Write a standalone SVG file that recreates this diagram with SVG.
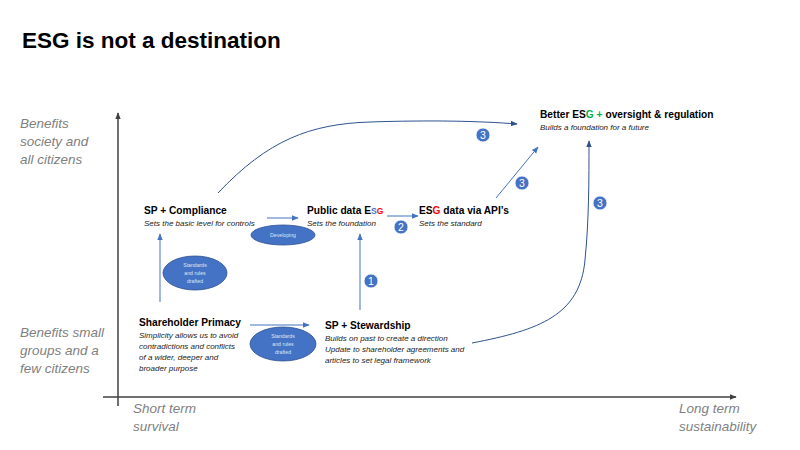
<svg xmlns="http://www.w3.org/2000/svg" width="800" height="450" viewBox="0 0 800 450">
<defs>
<style>
.title{font-family:"Liberation Sans",Arial,sans-serif;font-weight:bold;font-size:22.5px;fill:#000}
.ax{font-family:"Liberation Sans",Arial,sans-serif;font-style:italic;font-size:13.5px;fill:#7f7f7f}
.hd{font-family:"Liberation Sans",Arial,sans-serif;font-weight:bold;font-size:10.2px;fill:#000}
.sub{font-family:"Liberation Sans",Arial,sans-serif;font-style:italic;font-size:8px;fill:#222}
.ell{fill:#4472c4;stroke:#2f528f;stroke-width:0.8}
.elt{font-family:"Liberation Sans",Arial,sans-serif;font-size:5.2px;fill:#dce6f5;text-anchor:middle}
.num circle{fill:#4472c4;stroke:#ffffff;stroke-width:0.8}
.num text{font-family:"Liberation Sans",Arial,sans-serif;font-size:10.5px;fill:#fff;text-anchor:middle}
.arr{stroke:#4472c4;stroke-width:1;fill:none;marker-end:url(#ah)}
.crv{stroke:#2f528f;stroke-width:1;fill:none;marker-end:url(#ah2)}
.axis{stroke:#404040;stroke-width:1.5;fill:none}
</style>
<marker id="ah" viewBox="0 0 10 10" refX="9" refY="5" markerWidth="7" markerHeight="7" orient="auto" markerUnits="userSpaceOnUse"><path d="M0,1 L10,5 L0,9 z" fill="#4472c4"/></marker>
<marker id="ah2" viewBox="0 0 10 10" refX="9" refY="5" markerWidth="7" markerHeight="7" orient="auto" markerUnits="userSpaceOnUse"><path d="M0,1 L10,5 L0,9 z" fill="#2f528f"/></marker>
<marker id="axh" viewBox="0 0 10 10" refX="9" refY="5" markerWidth="7" markerHeight="7" orient="auto" markerUnits="userSpaceOnUse"><path d="M0,1 L10,5 L0,9 z" fill="#404040"/></marker>
</defs>
<rect width="800" height="450" fill="#fff"/>
<text class="title" x="22" y="48">ESG is not a destination</text>

<g id="axes">
<line class="axis" x1="118" y1="406" x2="118" y2="113" marker-end="url(#axh)"/>
<line class="axis" x1="103" y1="397" x2="736" y2="397" marker-end="url(#axh)"/>
<text class="ax" x="20" y="128">Benefits</text>
<text class="ax" x="20" y="146">society and</text>
<text class="ax" x="20" y="164">all citizens</text>
<text class="ax" x="20" y="337">Benefits small</text>
<text class="ax" x="20" y="355">groups and a</text>
<text class="ax" x="20" y="373">few citizens</text>
<text class="ax" x="133" y="413">Short term</text>
<text class="ax" x="133" y="431">survival</text>
<text class="ax" x="679" y="413">Long term</text>
<text class="ax" x="679" y="431">sustainability</text>
</g>

<g id="connectors">
<line class="arr" x1="267" y1="218" x2="298" y2="218"/>
<line class="arr" x1="387" y1="216" x2="418" y2="216"/>
<line class="arr" x1="160" y1="302" x2="160" y2="234"/>
<line class="arr" x1="360" y1="310" x2="360" y2="234"/>
<line class="arr" x1="250" y1="325" x2="309" y2="325"/>
<line class="arr" x1="496" y1="198" x2="538" y2="147"/>
<path class="crv" d="M218,193 C268,140 310,124 370,122 C430,120 480,121 517,124"/>
<path class="crv" d="M472,343 C540,330 580,315 585,260 C589,220 589,180 589,141"/>
</g>

<g id="n-compliance">
<text class="hd" x="144" y="214">SP + Compliance</text>
<text class="sub" x="144" y="226">Sets the basic level for controls</text>
</g>
<g id="n-public">
<text class="hd" x="307" y="214">Public data E<tspan fill="#4472c4" font-size="8.5px">S</tspan><tspan fill="#ff0000" font-size="8.5px">G</tspan></text>
<text class="sub" x="307" y="226">Sets the foundation</text>
</g>
<g id="n-api">
<text class="hd" x="419" y="214">ES<tspan fill="#ff0000">G</tspan> data via API’s</text>
<text class="sub" x="419" y="226">Sets the standard</text>
</g>
<g id="n-better">
<text class="hd" x="540" y="118">Better ES<tspan fill="#00b050">G +</tspan> oversight &amp; regulation</text>
<text class="sub" x="540" y="130">Builds a foundation for a future</text>
</g>
<g id="n-primacy">
<text class="hd" x="139" y="326">Shareholder Primacy</text>
<text class="sub" x="139" y="338">Simplicity allows us to avoid</text>
<text class="sub" x="139" y="349">contradictions and conflicts</text>
<text class="sub" x="139" y="360">of a wider, deeper and</text>
<text class="sub" x="139" y="371">broader purpose</text>
</g>
<g id="n-stewardship">
<text class="hd" x="325" y="329">SP + Stewardship</text>
<text class="sub" x="325" y="341">Builds on past to create a direction</text>
<text class="sub" x="325" y="352">Update to shareholder agreements and</text>
<text class="sub" x="325" y="363">articles to set legal framework</text>
</g>

<g id="e-developing">
<ellipse class="ell" cx="283" cy="235" rx="32" ry="10"/>
<text class="elt" x="283" y="237">Developing</text>
</g>
<g id="e-standards1">
<ellipse class="ell" cx="195" cy="273" rx="32" ry="17"/>
<text class="elt" x="195" y="267">Standards</text>
<text class="elt" x="195" y="275">and rules</text>
<text class="elt" x="195" y="283">drafted</text>
</g>
<g id="e-standards2">
<ellipse class="ell" cx="283" cy="344" rx="33" ry="17"/>
<text class="elt" x="283" y="338">Standards</text>
<text class="elt" x="283" y="346">and rules</text>
<text class="elt" x="283" y="354">drafted</text>
</g>

<g id="b1" class="num"><circle cx="371" cy="281" r="7"/><text x="371" y="284.7">1</text></g>
<g id="b2" class="num"><circle cx="401" cy="227" r="7"/><text x="401" y="230.7">2</text></g>
<g id="b3a" class="num"><circle cx="483" cy="135" r="7"/><text x="483" y="138.7">3</text></g>
<g id="b3b" class="num"><circle cx="522" cy="183" r="7"/><text x="522" y="186.7">3</text></g>
<g id="b3c" class="num"><circle cx="600" cy="203" r="7"/><text x="600" y="206.7">3</text></g>
</svg>
